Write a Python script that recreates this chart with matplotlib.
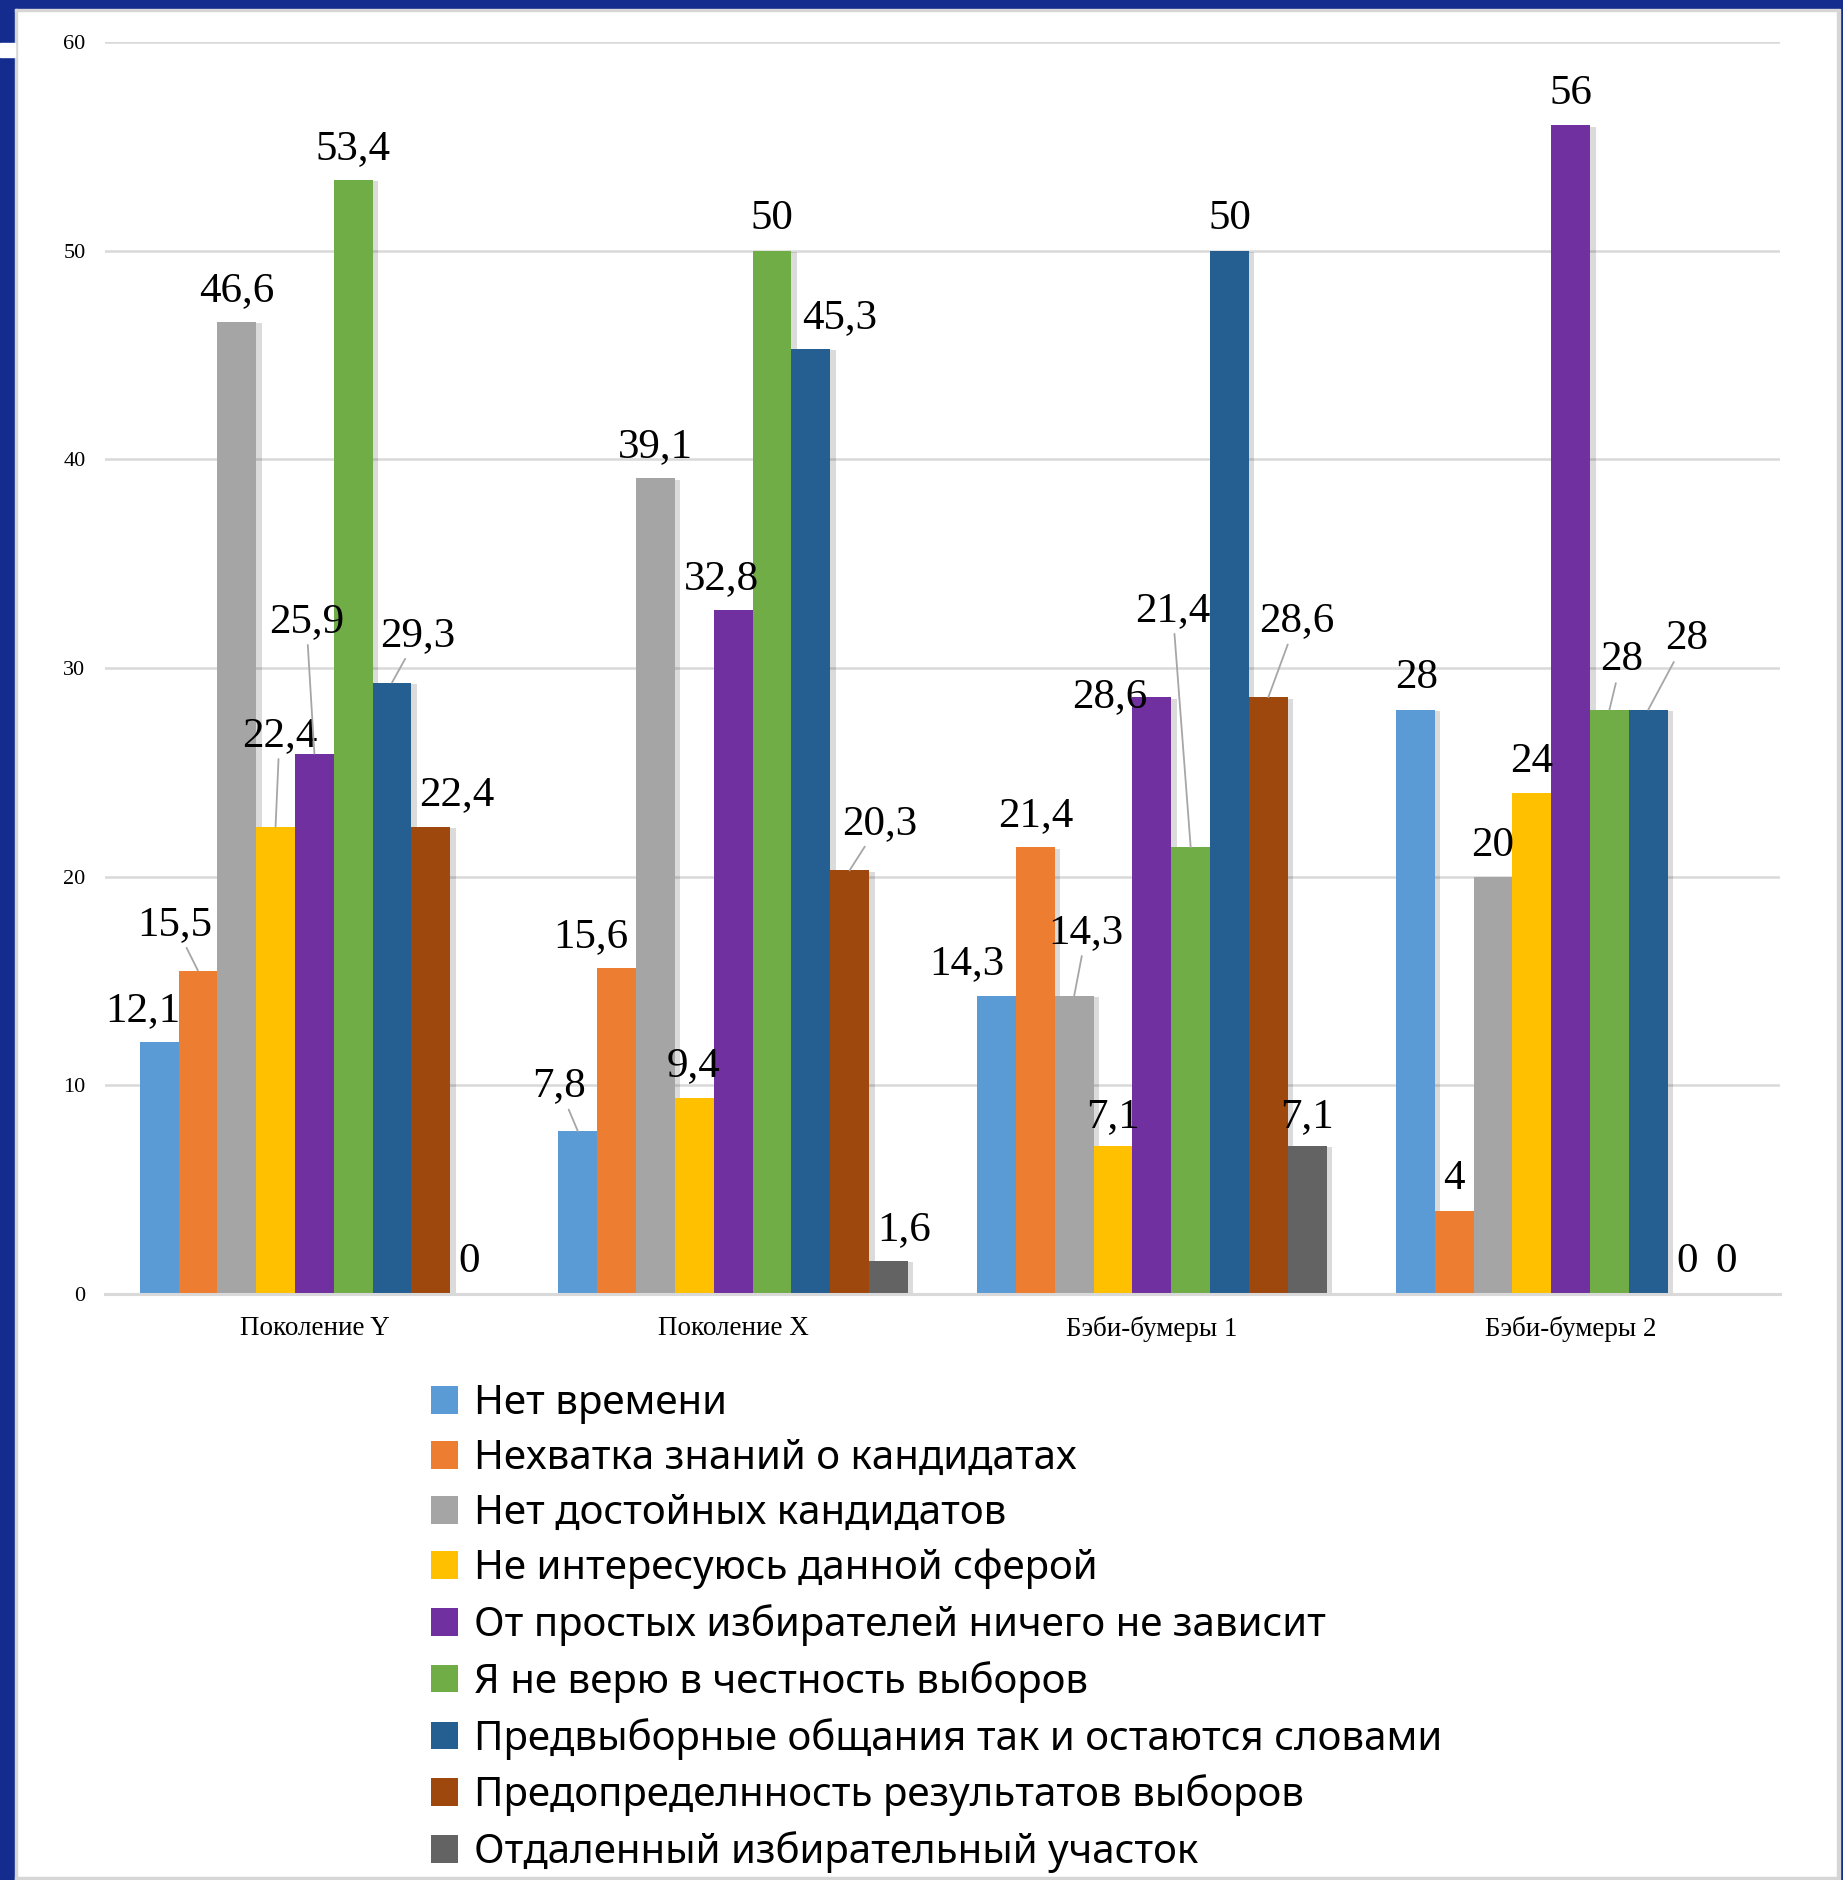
import matplotlib
matplotlib.use('Agg')
import matplotlib.pyplot as plt
import matplotlib.patheffects as pe
from matplotlib.patches import Rectangle
import numpy as np

categories = ['Поколение Y', 'Поколение X', 'Бэби-бумеры 1', 'Бэби-бумеры 2']
series = ['Нет времени',
          'Нехватка знаний о кандидатах',
          'Нет достойных кандидатов',
          'Не интересуюсь данной сферой',
          'От простых избирателей ничего не зависит',
          'Я не верю в честность выборов',
          'Предвыборные общания так и остаются словами',
          'Предопределнность результатов выборов',
          'Отдаленный избирательный участок']
# values[series][category]
no_time = [12.1, 7.8, 14.3, 28]
no_knowledge = [15.5, 15.6, 21.4, 4]
no_worthy = [46.6, 39.1, 14.3, 20]
not_interested = [22.4, 9.4, 7.1, 24]
nothing_depends = [25.9, 32.8, 28.6, 56]
no_trust = [53.4, 50, 21.4, 28]
just_words = [29.3, 45.3, 50, 28]
predetermined = [22.4, 20.3, 28.6, 0]
far_station = [0, 1.6, 7.1, 0]
values = [no_time, no_knowledge, no_worthy, not_interested, nothing_depends,
          no_trust, just_words, predetermined, far_station]

colors = ['#5B9BD5', '#ED7D31', '#A5A5A5', '#FFC000', '#7030A0',
          '#70AD47', '#255E91', '#9E480E', '#636363']

# label offsets (px right, px up) from bar top centre, per category then series; 1 = leader line
label_pos = [
    [(-16, 34, 0), (-23, 49, 1), (0, 34, 0), (4, 94, 1), (-8, 135, 1), (0, 34, 0), (26, 50, 1), (26, 35, 0), (-1, 35, 0)],
    [(-19, 48, 1), (-26, 35, 0), (0, 34, 0), (-1, 35, 0), (-12, 34, 0), (0, 35, 0), (29, 34, 0), (30, 50, 1), (16, 34, 0)],
    [(-30, 35, 0), (0, 35, 0), (12, 66, 1), (0, 32, 0), (-42, 3, 0), (-18, 240, 1), (0, 35, 0), (28, 79, 1), (0, 32, 0)],
    [(1, 35, 0), (0, 35, 0), (0, 34, 0), (0, 34, 0), (0, 35, 0), (12, 53, 1), (38, 74, 1), (0, 35, 0), (0, 35, 0)],
]

W, H = 1843, 1880
fig = plt.figure(figsize=(W / 100, H / 100), dpi=100)
fig.patch.set_facecolor('white')

def fx(px):
    return px / W

def fy(py):
    return 1 - py / H

ax = fig.add_axes([fx(105), fy(1294), fx(1780) - fx(105), fy(42) - fy(1294)])

n = len(series)
w = 0.0927
x = np.arange(len(categories))
shadow = [pe.SimplePatchShadow(offset=(4, -1), shadow_rgbFace='k', alpha=0.14), pe.Normal()]
bars = []
for j in range(n):
    b = ax.bar(x + (j - (n - 1) / 2) * w, values[j], width=w, color=colors[j],
               label=series[j], zorder=3)
    for r in b:
        r.set_path_effects(shadow)
    bars.append(b)

for i in range(len(categories)):
    for j in range(n):
        v = values[j][i]
        dx, dy, lead = label_pos[i][j]
        dy -= 3
        xc = x[i] + (j - (n - 1) / 2) * w
        txt = ('%g' % v).replace('.', ',')
        kw = {}
        if lead:
            kw['arrowprops'] = dict(arrowstyle='-', color='#A6A6A6', lw=1.3,
                                    shrinkA=1, shrinkB=0)
        ax.annotate(txt, xy=(xc, v), xytext=(dx * 0.72, dy * 0.72),
                    textcoords='offset points', ha='center', va='center',
                    family='Liberation Serif', fontsize=31, color='black',
                    zorder=5, **kw)

ax.set_xlim(-0.5, len(categories) - 0.5)
ax.set_ylim(0, 60)
ax.set_yticks(np.arange(0, 61, 10))
ax.set_xticks(x)
ax.set_xticklabels(categories, family='Liberation Serif', fontsize=19.5)
ax.tick_params(axis='x', length=0, pad=16)
ax.tick_params(axis='y', length=0, pad=14, labelsize=16)
for t in ax.get_yticklabels():
    t.set_family('Liberation Serif')
ax.yaxis.grid(True, color='#D9D9D9', lw=1.8, zorder=0)
ax.set_axisbelow(True)
for s in ['top', 'right', 'left']:
    ax.spines[s].set_visible(False)
ax.spines['bottom'].set_color('#D9D9D9')
ax.spines['bottom'].set_linewidth(2.2)
ax.spines['bottom'].set_zorder(4)

leg = fig.legend(handles=[b[0] for b in bars], labels=series, loc='upper left',
                 bbox_to_anchor=(fx(431), fy(1384)), frameon=False,
                 prop={'family': 'Noto Sans', 'size': 29},
                 handlelength=0.68, handleheight=0.68, handletextpad=0.4,
                 labelspacing=0.37, borderaxespad=0, borderpad=0)
for h in leg.legend_handles:
    h.set_path_effects([])

# page frame
blue = '#142C8E'
fig.add_artist(Rectangle((0, fy(9)), 1, 9 / H, transform=fig.transFigure,
                         color=blue, zorder=10))
fig.add_artist(Rectangle((0, 0), fx(15), 1, transform=fig.transFigure,
                         color=blue, zorder=10))
fig.add_artist(Rectangle((0, fy(57)), fx(15), 14 / H, transform=fig.transFigure,
                         color='white', zorder=11))
fig.add_artist(Rectangle((fx(1840), 0), fx(3), 1, transform=fig.transFigure,
                         color=blue, zorder=10))
fig.add_artist(Rectangle((fx(15), fy(11)), fx(1837) - fx(15), 2 / H, transform=fig.transFigure,
                         color='#D6D6D6', zorder=10))
fig.add_artist(Rectangle((fx(15), 0), fx(2), fy(9), transform=fig.transFigure,
                         color='#D6D6D6', zorder=10))
fig.add_artist(Rectangle((fx(1837), 0), fx(3), fy(9), transform=fig.transFigure,
                         color='#D6D6D6', zorder=10))
fig.add_artist(Rectangle((fx(15), 0), fx(1837) - fx(15), 3 / H, transform=fig.transFigure,
                         color='#D6D6D6', zorder=10))

fig.savefig('out.png', dpi=100)
